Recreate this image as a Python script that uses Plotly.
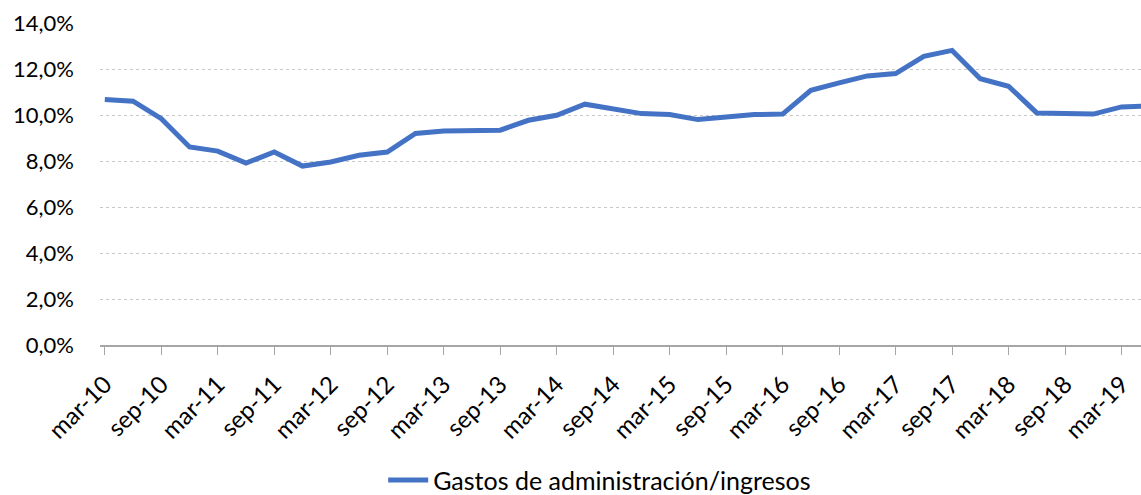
import plotly.graph_objects as go

periods = ["mar-10", "jun-10", "sep-10", "dic-10",
           "mar-11", "jun-11", "sep-11", "dic-11",
           "mar-12", "jun-12", "sep-12", "dic-12",
           "mar-13", "jun-13", "sep-13", "dic-13",
           "mar-14", "jun-14", "sep-14", "dic-14",
           "mar-15", "jun-15", "sep-15", "dic-15",
           "mar-16", "jun-16", "sep-16", "dic-16",
           "mar-17", "jun-17", "sep-17", "dic-17",
           "mar-18", "jun-18", "sep-18", "dic-18",
           "mar-19", "jun-19"]

ratio = [0.1067, 0.1060, 0.0984, 0.0861,
         0.0843, 0.0791, 0.0839, 0.0778,
         0.0796, 0.0825, 0.0839, 0.0920,
         0.0930, 0.0934, 0.0934, 0.0977,
         0.0999, 0.1047, 0.1028, 0.1006,
         0.1002, 0.0980, 0.0991, 0.1002,
         0.1004, 0.1107, 0.1140, 0.1170,
         0.1180, 0.1255, 0.1281, 0.1158,
         0.1125, 0.1009, 0.1007, 0.1004,
         0.1035, 0.1040]

tick_labels = periods[::2]
series_name = "Gastos de administración/ingresos"

fig = go.Figure()
fig.add_trace(go.Scatter(
    x=periods, y=ratio, mode="lines", name=series_name,
    line=dict(color="#4472C4", width=5, shape="linear"),
    showlegend=True,
))

font_family = "Lato, 'Open Sans', sans-serif"

fig.update_layout(
    width=1141, height=495,
    margin=dict(l=100, r=0, t=23, b=150),
    paper_bgcolor="white", plot_bgcolor="white",
    separators=",.",
    font=dict(family=font_family, size=22, color="#000000"),
    showlegend=True,
    legend=dict(orientation="h", x=0.480, xanchor="center",
                yref="container", y=0.03, yanchor="middle",
                font=dict(size=25, color="#000000"), itemwidth=40),
    xaxis=dict(
        type="category", categoryorder="array", categoryarray=periods,
        range=[-0.17, 36.69], automargin=False,
        tickmode="array", tickvals=tick_labels, ticktext=tick_labels,
        tickangle=-45, ticks="outside", ticklen=8, tickcolor="#A6A6A6",
        showline=True, linecolor="#A6A6A6", linewidth=1.5,
        showgrid=False, zeroline=False,
        ticklabelstandoff=6,
        tickfont=dict(size=24, color="#000000"),
    ),
    yaxis=dict(
        range=[0, 0.14], tickmode="linear", tick0=0, dtick=0.02, automargin=False,
        tickformat=".1%", showgrid=True, gridcolor="#C8C8C8", griddash="dot",
        gridwidth=1, zeroline=False, showline=False, ticks="",
        ticklabelstandoff=25,
        tickfont=dict(size=22, color="#000000"),
    ),
)

fig.write_html(
    "out.html",
    config={"displayModeBar": False},
    post_script="document.body.style.margin='0';document.body.style.padding='0';document.body.style.overflow='hidden';",
)
